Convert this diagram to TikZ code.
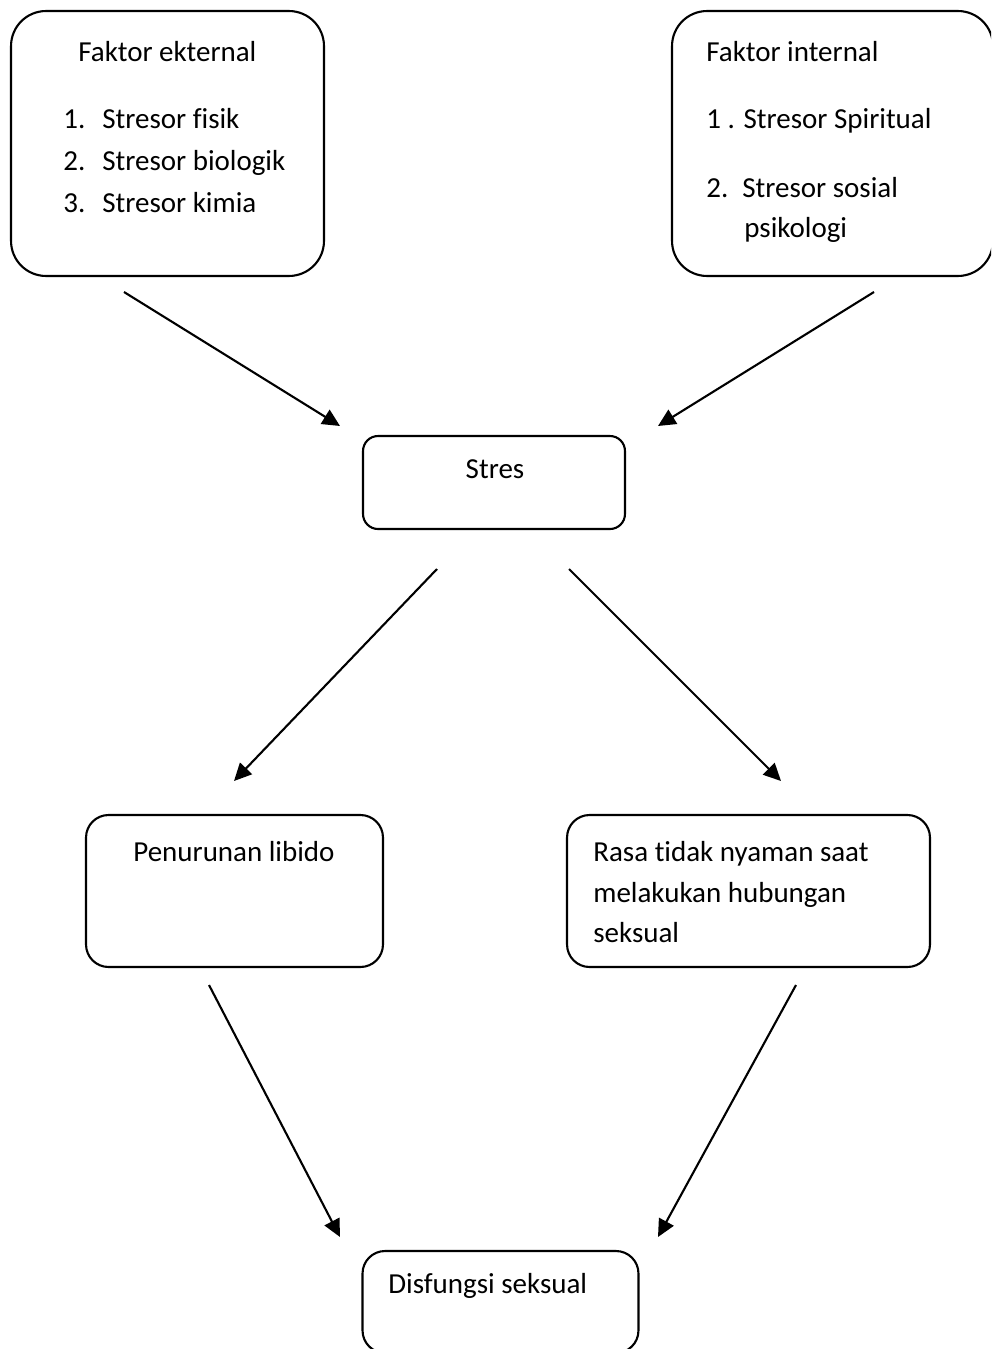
\documentclass[tikz,border=0pt]{standalone}
\usepackage{fontspec}
\setmainfont{Carlito}[Ligatures=NoCommon]
\usetikzlibrary{arrows.meta}

\tikzset{
    box/.style={draw, line width=1.2pt, rounded corners=#1, inner sep=0pt},
    box/.default=0.45cm,
    txt/.style={anchor=base west, inner sep=0pt, font=\fontsize{16.5}{20}\selectfont},
    arr/.style={-{Triangle[length=3.5mm, width=3.3mm]}, line width=1.2pt}
}
\newcommand{\numtab}[2]{\makebox[#1][l]{#2}}

\begin{document}
\begin{tikzpicture}[x=0.02cm, y=-0.02cm]
            \clip (0, 0) rectangle (991, 1349);
            \node[box=0.7cm, minimum width=6.26cm, minimum height=5.3cm] (eks) at (167.5, 143.5) {};
            \node[box=0.7cm, minimum width=6.42cm, minimum height=5.3cm] (int) at (832.5, 143.5) {};
            \node[box=0.3cm, minimum width=5.24cm, minimum height=1.86cm] (stres) at (494, 482.5) {};
            \node[box, minimum width=5.94cm, minimum height=3.04cm] (libido) at (234.5, 891) {};
            \node[box, minimum width=7.26cm, minimum height=3.04cm] (rasa) at (748.5, 891) {};
            \node[box, minimum width=5.52cm, minimum height=2.04cm] (disf) at (500.5, 1302) {};

            \node[txt] (eksT) at (78, 61) {Faktor ekternal};
            \node[txt] (eks1) at (63, 128) {\numtab{0.78cm}{1.}Stresor fisik};
            \node[txt] (eks2) at (63, 170) {\numtab{0.78cm}{2.}Stresor biologik};
            \node[txt] (eks3) at (63, 212) {\numtab{0.78cm}{3.}Stresor kimia};

            \node[txt] (intT) at (706, 61) {Faktor internal};
            \node[txt] (int1) at (706, 128) {1 . Stresor Spiritual};
            \node[txt] (int2) at (706, 197) {\numtab{0.72cm}{2.}Stresor sosial};
            \node[txt] (int2b) at (744, 237) {psikologi};

            \node[txt, anchor=base] (stresT) at (495, 478) {Stres};
            \node[txt] (libidoT) at (133, 861) {Penurunan libido};
            \node[txt] (rasa1) at (593, 861) {Rasa tidak nyaman saat};
            \node[txt] (rasa2) at (593, 902) {melakukan hubungan};
            \node[txt] (rasa3) at (593, 942) {seksual};
            \node[txt] (disfT) at (388, 1293) {Disfungsi seksual};

            \coordinate (eksOut) at (124, 292);
            \coordinate (intOut) at (874, 292);
            \coordinate (stresInL) at (340, 426);
            \coordinate (stresInR) at (658, 426);
            \coordinate (stresOutL) at (437, 569);
            \coordinate (stresOutR) at (569, 569);
            \coordinate (libidoIn) at (234, 781);
            \coordinate (rasaIn) at (781, 781);
            \coordinate (libidoOut) at (209, 985);
            \coordinate (rasaOut) at (796, 985);
            \coordinate (disfInL) at (340, 1237);
            \coordinate (disfInR) at (658, 1237);

            \draw[arr] (eksOut) to (stresInL);
            \draw[arr] (intOut) to (stresInR);
            \draw[arr] (stresOutL) to (libidoIn);
            \draw[arr] (stresOutR) to (rasaIn);
            \draw[arr] (libidoOut) to (disfInL);
            \draw[arr] (rasaOut) to (disfInR);
\end{tikzpicture}
\end{document}
